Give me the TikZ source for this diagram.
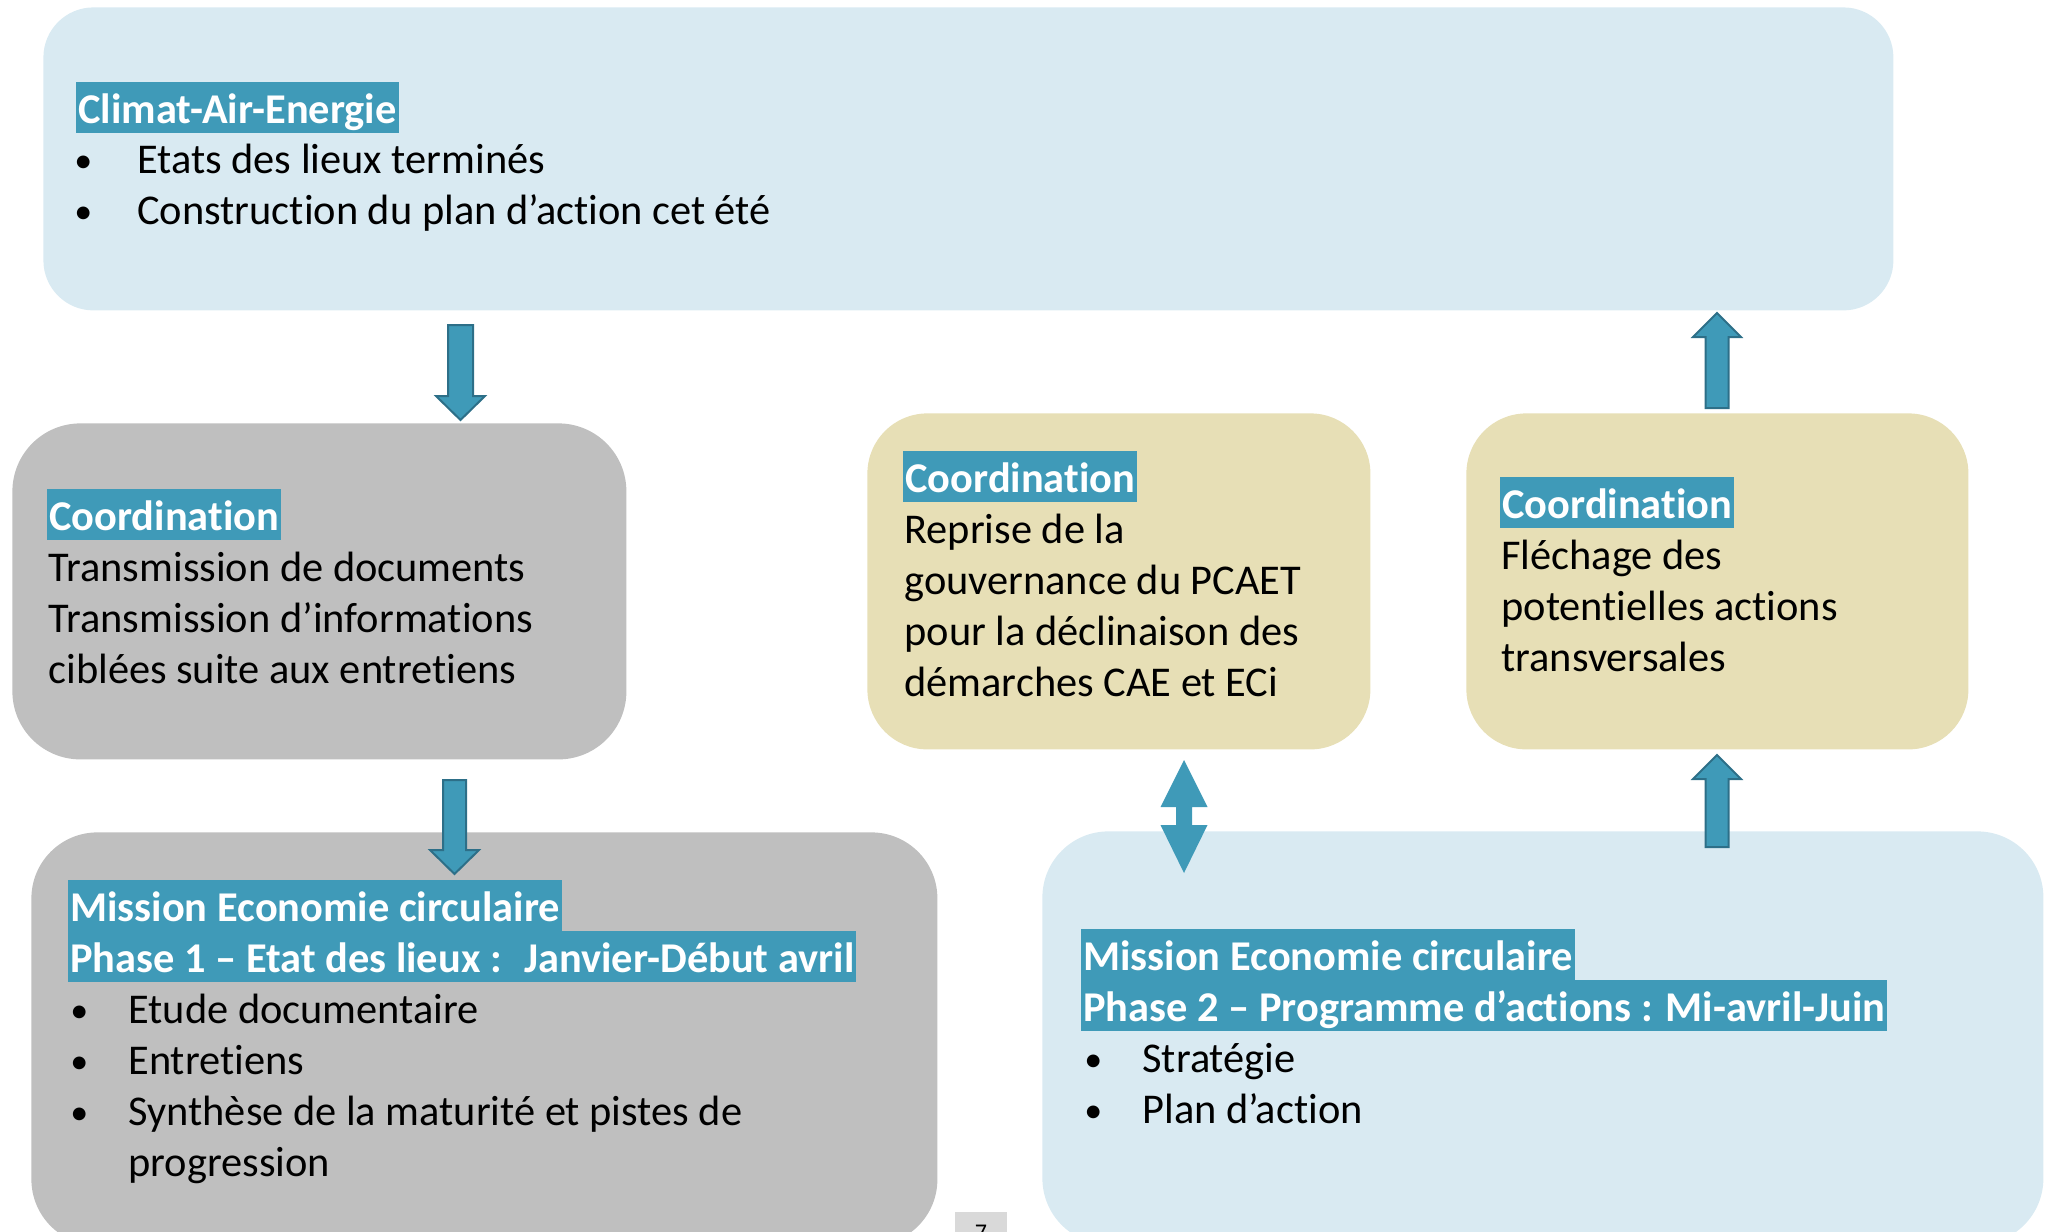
\documentclass[tikz,border=0pt]{standalone}
\usepackage{fontspec}
\setmainfont{Carlito}[Ligatures=NoCommon, Contextuals=NoAlternate]
\definecolor{lblue}{HTML}{D9EAF2}
\definecolor{lgray}{HTML}{BFBFBF}
\definecolor{beige}{HTML}{E7DFB6}
\definecolor{tealc}{HTML}{3F9AB8}
\definecolor{tealdark}{HTML}{2D6F88}
\definecolor{pagegray}{HTML}{D9D9D9}
\begin{document}
\begin{tikzpicture}[x=0.5pt,y=-0.5pt,
  panel/.style={anchor=north west, inner sep=0pt, draw=none},
  txt/.style={anchor=base west, inner sep=0pt, text=black, font=\fontsize{21.2}{25.5}\selectfont},
  bul/.style={anchor=base west, inner sep=0pt, text=black, font=\fontsize{18}{25.5}\selectfont},
  hl/.style={anchor=base west, inner xsep=1pt, inner ysep=0pt, text height=20.5pt, text depth=5pt,
             fill=tealc, text=white, font=\fontsize{21.2}{25.5}\selectfont\bfseries},
  blk/.style={fill=tealc, draw=tealdark, line width=1pt, line join=miter},
  blkplain/.style={fill=tealc, draw=none}]
\path[use as bounding box] (0,0) rectangle (2053,1232);
\begin{scope}
\clip (0,0) rectangle (2053,1232);

% panels
\node[panel, fill=lblue, minimum width=925pt, minimum height=151.5pt, rounded corners=25pt] (cae) at (43,7) {};
\node[panel, fill=lgray, minimum width=307pt, minimum height=168pt, rounded corners=34pt] (coordL) at (12,423) {};
\node[panel, fill=beige, minimum width=251.5pt, minimum height=168pt, rounded corners=30pt] (coordM) at (867,413) {};
\node[panel, fill=beige, minimum width=251pt, minimum height=168pt, rounded corners=30pt] (coordR) at (1466,413) {};
\node[panel, fill=lgray, minimum width=453pt, minimum height=206.5pt, rounded corners=33pt] (mis1) at (31,832) {};
\node[panel, fill=lblue, minimum width=500.5pt, minimum height=206.5pt, rounded corners=33pt] (mis2) at (1042,831) {};

% block arrows
% cae -> coordL
\draw[blk] (448,325) -- (473,325) -- (473,396) -- (485,396) -- (460.5,420) -- (436,396) -- (448,396) -- cycle;
% coordL -> mis1
\draw[blk] (443,780) -- (466,780) -- (466,850) -- (479,850) -- (454.5,874) -- (430,850) -- (443,850) -- cycle;
% coordR -> cae
\draw[blk] (1705.5,408) -- (1728.5,408) -- (1728.5,337) -- (1741,337) -- (1717,313) -- (1693,337) -- (1705.5,337) -- cycle;
% mis2 -> coordR
\draw[blk] (1705.5,847) -- (1728.5,847) -- (1728.5,779) -- (1741,779) -- (1717,755) -- (1693,779) -- (1705.5,779) -- cycle;
% coordM <-> mis2
\fill[blkplain] (1184,760) -- (1207.5,807) -- (1192,807) -- (1192,825) -- (1207.5,825) -- (1184,873)
  -- (1160.5,825) -- (1176,825) -- (1176,807) -- (1160.5,807) -- cycle;

% Climat-Air-Energie
\node[hl] (caeT) at (76,123) {Climat-Air-Energie};
\node[bul] (caeB1) at (74,172) {•};
\node[txt] (caeL1) at (137,173) {Etats des lieux terminés};
\node[bul] (caeB2) at (74,223) {•};
\node[txt] (caeL2) at (137,224) {Construction du plan d’action cet été};

% Coordination left
\node[hl] (cLT) at (47,530) {Coordination};
\node[txt] (cL1) at (48,581) {Transmission de documents};
\node[txt] (cL2) at (48,632) {Transmission d’informations};
\node[txt] (cL3) at (48,683) {ciblées suite aux entretiens};

% Coordination middle
\node[hl] (cMT) at (903,492) {Coordination};
\node[txt] (cM1) at (904,543) {Reprise de la};
\node[txt] (cM2) at (904,594) {gouvernance du PCAET};
\node[txt] (cM3) at (904,645) {pour la déclinaison des};
\node[txt] (cM4) at (904,696) {démarches CAE et ECi};

% Coordination right
\node[hl] (cRT) at (1500,518) {Coordination};
\node[txt] (cR1) at (1501,569) {Fléchage des};
\node[txt] (cR2) at (1501,620) {potentielles actions};
\node[txt] (cR3) at (1501,671) {transversales};

% Mission phase 1
\node[hl] (m1T) at (68,921) {Mission Economie circulaire};
\node[hl] (m1P) at (68,972) {Phase 1 – Etat des lieux : \ Janvier-Début avril};
\node[bul] (m1B1) at (70,1022) {•};
\node[txt] (m1L1) at (128,1023) {Etude documentaire};
\node[bul] (m1B2) at (70,1073) {•};
\node[txt] (m1L2) at (128,1074) {Entretiens};
\node[bul] (m1B3) at (70,1124) {•};
\node[txt] (m1L3) at (128,1125) {Synthèse de la maturité et pistes de};
\node[txt] (m1L4) at (128,1176) {progression};

% Mission phase 2
\node[hl] (m2T) at (1081,970) {Mission Economie circulaire};
\node[hl] (m2P) at (1081,1021) {Phase 2 – Programme d’actions : Mi-avril-Juin};
\node[bul] (m2B1) at (1084,1071) {•};
\node[txt] (m2L1) at (1142,1072) {Stratégie};
\node[bul] (m2B2) at (1084,1122) {•};
\node[txt] (m2L2) at (1142,1123) {Plan d’action};

% page number
\node[panel, fill=pagegray, minimum width=26pt, minimum height=16pt] (pg) at (955,1212) {};
\node[anchor=base, inner sep=0pt, font=\fontsize{12}{14}\selectfont] (pgn) at (981,1240) {7};
\end{scope}
\end{tikzpicture}
\end{document}
